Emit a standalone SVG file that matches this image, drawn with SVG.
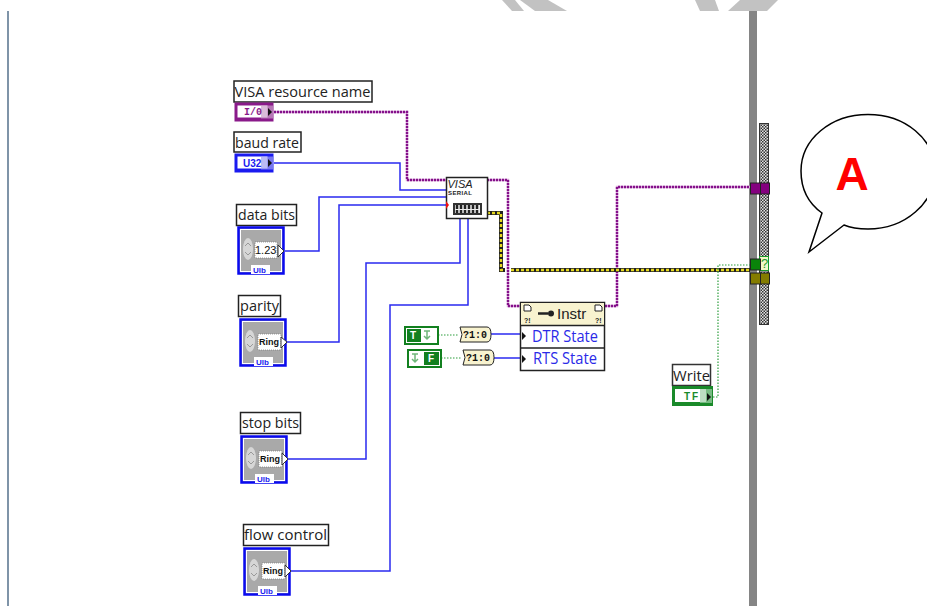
<svg xmlns="http://www.w3.org/2000/svg" width="927" height="606" viewBox="0 0 927 606">
<defs>
<style>
text{font-family:"Liberation Sans","DejaVu Sans",sans-serif}
.lb{fill:#fff;stroke:#222;stroke-width:1.5}
.lt{font-size:15px;fill:#222;font-family:"Open Sans","DejaVu Sans",sans-serif}
.w{fill:none;stroke:#2a2af0;stroke-width:1.5}
.pu{fill:none;stroke:#d9a8d9;stroke-width:2.400}
.p{fill:none;stroke:#84108a;stroke-width:2.400;stroke-dasharray:2 1}
.g{fill:none;stroke:#2e9e3e;stroke-width:1.2;stroke-dasharray:1.5 1.5}
.row{font-size:15.5px;fill:#2a2ae8;font-family:"Open Sans","DejaVu Sans",sans-serif}
.ctl{fill:#a9a9a9;stroke:#0a0af0;stroke-width:2.500}
.ctl2{fill:none;stroke:#fff;stroke-width:1}
.ctl3{fill:none;stroke:#1a1af0;stroke-width:1}
.ring{font-size:9px;font-weight:bold;fill:#111}
.ringbox{fill:#fff;stroke:#777;stroke-width:.7;stroke-dasharray:1 1}
.ub{font-size:8px;font-weight:bold;fill:#1a1af0}
.conv{fill:#f8f3cf;stroke:#222;stroke-width:1}
.convt{font-size:10px;font-weight:bold;font-family:"Liberation Mono",monospace;fill:#111}
.term{font-size:10px;font-weight:bold;font-family:"Liberation Mono",monospace}
</style>
<pattern id="check" width="3" height="3" patternUnits="userSpaceOnUse"><rect width="3" height="3" fill="#e4e4e4"/><rect width="1.500" height="1.500" fill="#333"/><rect x="1.500" y="1.500" width="1.500" height="1.500" fill="#333"/></pattern>
<g id="knob"><ellipse cx="0" cy="0" rx="5" ry="11" fill="#d6d6d6"/><path d="M-3,-3 L0,-6 L3,-3 M-3,3 L0,6 L3,3" fill="none" stroke="#999" stroke-width="1"/></g>
<g id="tog"><path d="M-3,-4H3M0,-4V4M-3,1L0,4L3,1" fill="none" stroke="#6fb77a" stroke-width="1.500"/></g>
</defs>
<rect width="927" height="606" fill="#fff"/>
<rect id="left-rule" x="7" y="11" width="2" height="595" fill="#7f94a8"/>
<g id="top-shapes" fill="#c2c2c2">
<polygon points="502,0 515,0 524,11 512,11"/>
<polygon points="520,0 548,0 567,11 535,11"/>
<polygon points="695,0 715,0 719,11 700,11"/>
<polygon points="740,0 778,0 767,11 728,11"/>
</g>
<rect id="frame-bar" x="749" y="11" width="8" height="595" fill="#858585"/>
<g id="scroll-frame">
<rect x="759.500" y="123.500" width="9" height="201" fill="url(#check)" stroke="#333" stroke-width="1"/>
</g>
<g id="connectors">
<path class="pu" d="M274,112H407V180H446"/>
<path class="p" d="M274,112H407V180H446"/>
<path class="pu" d="M487,180H508V306H520"/>
<path class="p" d="M487,180H508V306H520"/>
<path class="pu" d="M605,306H617V187H750"/>
<path class="p" d="M605,306H617V187H750"/>
<path class="w" d="M274,163H400V190H446"/>
<path class="w" d="M285,251H319V197H446"/>
<path class="w" d="M287,342H339V205H446"/>
<path class="w" d="M288,459H366V263H460V218"/>
<path class="w" d="M291,571H390V305H468V218"/>
<path d="M487,213H501V270H505M511,270H750" fill="none" stroke="#222" stroke-width="4"/>
<path d="M487,213H501V270H505M511,270H750" fill="none" stroke="#e6d820" stroke-width="2.400" stroke-dasharray="3 2"/>
<path class="w" d="M491,334H520"/>
<path class="w" d="M494,358H520"/>
<path class="g" d="M438,335H459"/>
<path class="g" d="M441,358H462"/>
<path class="g" d="M713,397H718V265H750"/>
</g>
<g id="visa-resource-name">
<rect class="lb" x="234" y="81" width="138" height="21"/>
<text class="lt" x="234.500" y="97" textLength="136" lengthAdjust="spacingAndGlyphs">VISA resource name</text>
<rect x="234.500" y="102.500" width="39" height="19" fill="#8a1a8a"/>
<rect x="237.500" y="105.500" width="30" height="12" fill="#fff"/>
<rect x="261" y="105.500" width="12" height="13" fill="#c9a0c9" opacity=".7"/>
<text class="term" x="244" y="115" fill="#8a1a8a">I/0</text>
<polygon points="268,108 272,112 268,116" fill="#111"/>
</g>
<g id="baud-rate">
<rect class="lb" x="234" y="132" width="67" height="20"/>
<text class="lt" x="235" y="148" textLength="64" lengthAdjust="spacingAndGlyphs">baud rate</text>
<rect x="234.500" y="153.500" width="39" height="19" fill="#1a1af0"/>
<rect x="237.500" y="156.500" width="30" height="12" fill="#fff"/>
<rect x="261" y="156.500" width="12" height="13" fill="#a0a0f0" opacity=".7"/>
<text x="243" y="167" font-size="10" font-weight="bold" fill="#1a1af0">U32</text>
<polygon points="268,159 272,163 268,167" fill="#111"/>
</g>
<g id="data-bits">
<rect class="lb" x="236.500" y="204.500" width="60" height="21"/>
<text class="lt" x="238" y="220" textLength="57" lengthAdjust="spacingAndGlyphs">data bits</text>
<rect class="ctl" x="238.500" y="227.500" width="45" height="46"/>
<rect class="ctl2" x="240.500" y="229.500" width="41" height="42"/>
<use href="#knob" x="248" y="249"/>
<rect class="ringbox" x="255" y="242" width="22" height="16"/>
<text x="255" y="254" font-size="11" fill="#111">1.23</text>
<polygon points="278,245 284,251 278,257" fill="#fff" stroke="#333"/>
<rect x="251" y="265" width="19" height="9" fill="#fff"/>
<text class="ub" x="253" y="273">Ulb</text>
</g>
<g id="parity">
<rect class="lb" x="238.500" y="295.500" width="42" height="21"/>
<text class="lt" x="240" y="311" textLength="39" lengthAdjust="spacingAndGlyphs">parity</text>
<rect class="ctl" x="240.500" y="319.500" width="45" height="46"/>
<rect class="ctl2" x="242.500" y="321.500" width="41" height="42"/>
<use href="#knob" x="250" y="341"/>
<rect class="ringbox" x="258" y="334" width="23" height="16"/>
<text class="ring" x="259" y="345">Ring</text>
<polygon points="281,337 287,342 281,348" fill="#fff" stroke="#333"/>
<rect x="254" y="357" width="19" height="9" fill="#fff"/>
<text class="ub" x="256" y="365">Ulb</text>
</g>
<g id="stop-bits">
<rect class="lb" x="240.500" y="412.500" width="60" height="21"/>
<text class="lt" x="242" y="428" textLength="57" lengthAdjust="spacingAndGlyphs">stop bits</text>
<rect class="ctl" x="241.500" y="436.500" width="45" height="46"/>
<rect class="ctl2" x="243.500" y="438.500" width="41" height="42"/>
<use href="#knob" x="251" y="458"/>
<rect class="ringbox" x="259" y="451" width="23" height="16"/>
<text class="ring" x="260" y="462">Ring</text>
<polygon points="282,453 288,459 282,465" fill="#fff" stroke="#333"/>
<rect x="255" y="474" width="19" height="9" fill="#fff"/>
<text class="ub" x="257" y="482">Ulb</text>
</g>
<g id="flow-control">
<rect class="lb" x="243.500" y="524.500" width="85" height="21"/>
<text class="lt" x="244" y="540" textLength="83" lengthAdjust="spacingAndGlyphs">flow control</text>
<rect class="ctl" x="244.500" y="548.500" width="45" height="46"/>
<rect class="ctl2" x="246.500" y="550.500" width="41" height="42"/>
<use href="#knob" x="254" y="570"/>
<rect class="ringbox" x="262" y="563" width="23" height="16"/>
<text class="ring" x="263" y="574">Ring</text>
<polygon points="285,565 291,571 285,577" fill="#fff" stroke="#333"/>
<rect x="258" y="586" width="19" height="9" fill="#fff"/>
<text class="ub" x="260" y="594">Ulb</text>
</g>
<g id="visa-serial">
<rect x="446.500" y="177.500" width="41" height="41" fill="#fff" stroke="#222" stroke-width="1.500"/>
<text x="447.500" y="188" font-size="11" font-style="italic" fill="#222">VISA</text>
<text x="448" y="195" font-size="6" font-weight="bold" fill="#222" letter-spacing=".4">SERIAL</text>
<rect x="453" y="203" width="29" height="12" fill="#333"/>
<rect x="455" y="205" width="25" height="8" fill="#eee"/>
<path d="M457,205V213M461,205V213M465,205V213M469,205V213M473,205V213M477,205V213" stroke="#222" stroke-width="2.500" stroke-dasharray="4 1"/>
<polygon points="446,201 449,205 446,209" fill="#f01010"/>
</g>
<g id="instr-property">
<rect x="520.500" y="302.500" width="84" height="68" fill="#fff" stroke="#222" stroke-width="1.500"/>
<rect x="521" y="303" width="83" height="22" fill="#f8f3cf"/>
<path d="M520.500,325.500H604.500M520.500,348H604.500" stroke="#222" stroke-width="1.500"/>
<path d="M524,305h5l2,2v4h-7zM595,305h5l2,2v4h-7z" fill="#fff" stroke="#222"/>
<text x="524" y="323" font-size="7" font-weight="bold" fill="#222">?!</text>
<text x="595" y="323" font-size="7" font-weight="bold" fill="#222">?!</text>
<path d="M538,313.500H548" stroke="#222" stroke-width="2.500"/>
<circle cx="551" cy="313.500" r="3" fill="#222"/>
<text x="557" y="319" font-size="15" fill="#222" font-family="Open Sans,sans-serif">Instr</text>
<polygon points="522,332 526,336 522,340" fill="#111"/>
<polygon points="522,355 526,359 522,363" fill="#111"/>
<text class="row" x="532" y="342" textLength="66" lengthAdjust="spacingAndGlyphs">DTR State</text>
<text class="row" x="533" y="364" textLength="64" lengthAdjust="spacingAndGlyphs">RTS State</text>
</g>
<g id="true-constant">
<rect x="405" y="327" width="33" height="17" fill="#fff" stroke="#12801f" stroke-width="2"/>
<rect x="407" y="329" width="14" height="13" fill="#12801f"/>
<text x="410" y="339" font-size="10" font-weight="bold" fill="#fff">T</text>
<use href="#tog" x="427" y="335"/>
</g>
<g id="false-constant">
<rect x="408" y="350" width="33" height="17" fill="#fff" stroke="#12801f" stroke-width="2"/>
<rect x="424" y="352" width="15" height="13" fill="#12801f"/>
<use href="#tog" x="415" y="358"/>
<text x="428" y="362" font-size="10" font-weight="bold" fill="#fff">F</text>
</g>
<g id="convert-1">
<path class="conv" d="M460,327H487Q491,327 491,334.500Q491,342 487,342H460L462,334.500Z"/>
<text class="convt" x="463" y="338">?1:0</text>
</g>
<g id="convert-2">
<path class="conv" d="M463,350H490Q494,350 494,357.500Q494,365 490,365H463L465,357.500Z"/>
<text class="convt" x="466" y="361">?1:0</text>
</g>
<g id="write">
<rect x="672.500" y="364.500" width="38" height="21" fill="#fff" stroke="#333" stroke-width="1.500"/>
<text class="lt" x="673" y="381" textLength="37" lengthAdjust="spacingAndGlyphs">Write</text>
<rect x="672" y="386" width="41" height="20" fill="#1a8a2a"/>
<rect x="675" y="389" width="31" height="13" fill="#fff"/>
<rect x="700" y="389" width="12" height="14" fill="#a0d0a8" opacity=".7"/>
<text x="684" y="400" font-size="10" font-weight="bold" letter-spacing="2" fill="#1a8a2a">TF</text>
<polygon points="707,393 711,397 707,401" fill="#111"/>
</g>
<g id="frame-tunnels" stroke="#222" stroke-width="1">
<rect x="750.500" y="183" width="10" height="11" fill="#84007f"/>
<rect x="760.500" y="183" width="9" height="11" fill="#84007f"/>
<rect x="759.500" y="256.500" width="9" height="14" fill="#f4f8c8" stroke="#1a9a2a"/>
<text x="761" y="268" font-size="13" fill="#1a9a2a" stroke="none">?</text>
<rect x="750.500" y="259" width="10" height="11" fill="#0a840a"/>
<rect x="750.500" y="273" width="10" height="11" fill="#847c00"/>
<rect x="760.500" y="273" width="9" height="11" fill="#847c00"/>
</g>
<g id="callout-a">
<path d="M822,213C808,203 801,188 801,171C801,139 831,114.500 868,114.500C905,114.500 935,139 935,171C935,203 905,229 868,229C859,229 851,228 844,225L809,252Z" fill="#fff" stroke="#000" stroke-width="1.500"/>
<text x="852" y="190" font-size="46" font-weight="bold" fill="#ff0000" text-anchor="middle">A</text>
</g>
</svg>
